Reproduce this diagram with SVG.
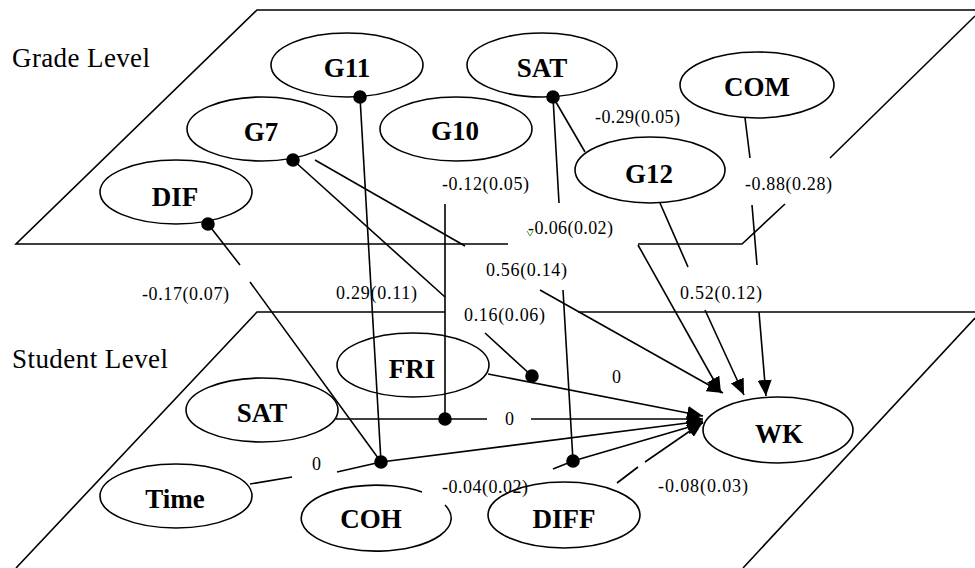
<svg xmlns="http://www.w3.org/2000/svg" width="975" height="568" viewBox="0 0 975 568">
<style>
.ln{stroke:#000;stroke-width:1.6;fill:none}
.el{fill:none;stroke:#000;stroke-width:1.6}
.nt{font-family:"Liberation Serif","Times New Roman",serif;font-weight:bold;font-size:27px;text-anchor:middle;fill:#000}
.et{font-family:"Liberation Serif","Times New Roman",serif;font-size:18px;fill:#000}
.pt{font-family:"Liberation Serif","Times New Roman",serif;font-size:27px;fill:#000}
.dot{fill:#000}
</style>
<defs>
<marker id="ah" markerUnits="userSpaceOnUse" markerWidth="16" markerHeight="14" refX="16" refY="7" orient="auto">
<path d="M0,0 L16,7 L0,14 z" fill="#000"/>
</marker>
</defs>
<rect width="975" height="568" fill="#fff"/>

<g id="grade-plane" class="ln">
<path d="M508,244 L16,244 L257,10 L975,10"/>
<path d="M638,244 L742,244 L785,204"/>
<path d="M830,158 L975,16"/>
</g>
<g id="student-plane" class="ln">
<path d="M445,312 L257,312 L16,568"/>
<path d="M578,312 L975,312"/>
<path d="M975,318 L743,568"/>
</g>
<text class="pt" x="12" y="67" textLength="138" lengthAdjust="spacing">Grade Level</text>
<text class="pt" x="12" y="368" textLength="156" lengthAdjust="spacing">Student Level</text>

<g id="connectors" class="ln">
<path d="M360,97 L381,462"/>
<path d="M293,160 L445,297 M485,333 L532,376"/>
<path d="M315,160 L465,246"/>
<path d="M540,290 L723,393" marker-end="url(#ah)"/>
<path d="M445,204 L445,419"/>
<path d="M553,97 L559,203 M563,290 L573,461"/>
<path d="M553,97 L585,152"/>
<path d="M660,203 L688,267"/>
<path d="M705,310 L744,395" marker-end="url(#ah)"/>
<path d="M745,118 L750,158 M752,205 L757,265"/>
<path d="M759,312 L766,396" marker-end="url(#ah)"/>
<path d="M638,245 L721,393" marker-end="url(#ah)"/>
<path d="M208,224 L240,265 M250,282 L381,462"/>
<path d="M488,374 L703,416" marker-end="url(#ah)"/>
<path d="M336,419 L487,419"/>
<path d="M531,419 L703,419" marker-end="url(#ah)"/>
<path d="M250,484 L292,477"/>
<path d="M337,472 L381,462 L703,421" marker-end="url(#ah)"/>
<path d="M553,469 L573,461 L703,423" marker-end="url(#ah)"/>
<path d="M617,483 L638,467"/>
<path d="M645,462 L703,422" marker-end="url(#ah)"/>
<circle class="dot" cx="360" cy="97" r="6"/>
<circle class="dot" cx="293" cy="160" r="6"/>
<circle class="dot" cx="208" cy="224" r="6"/>
<circle class="dot" cx="553" cy="97" r="6"/>
<circle class="dot" cx="381" cy="462" r="6"/>
<circle class="dot" cx="445" cy="419" r="6"/>
<circle class="dot" cx="532" cy="376" r="6"/>
<circle class="dot" cx="573" cy="461" r="6"/>
</g>

<g id="edge-labels">
<text class="et" x="595" y="123" textLength="85" lengthAdjust="spacing">-0.29(0.05)</text>
<text class="et" x="442" y="190" textLength="87" lengthAdjust="spacing">-0.12(0.05)</text>
<text class="et" x="745" y="190" textLength="87" lengthAdjust="spacing">-0.88(0.28)</text>
<text class="et" x="528" y="234" textLength="85" lengthAdjust="spacing">-0.06(0.02)</text>
<path d="M527,231 L530,236 L533,231" stroke="#3a3" stroke-width="1" fill="none"/>
<text class="et" x="486" y="276" textLength="81" lengthAdjust="spacing">0.56(0.14)</text>
<text class="et" x="142" y="300" textLength="87" lengthAdjust="spacing">-0.17(0.07)</text>
<text class="et" x="336" y="299" textLength="81" lengthAdjust="spacing">0.29(0.11)</text>
<text class="et" x="464" y="321" textLength="81" lengthAdjust="spacing">0.16(0.06)</text>
<text class="et" x="680" y="299" textLength="82" lengthAdjust="spacing">0.52(0.12)</text>
<text class="et" x="612" y="383">0</text>
<text class="et" x="505" y="425">0</text>
<text class="et" x="312" y="470">0</text>
<text class="et" x="442" y="493" textLength="86" lengthAdjust="spacing">-0.04(0.02)</text>
<text class="et" x="658" y="492" textLength="90" lengthAdjust="spacing">-0.08(0.03)</text>
</g>

<g id="node-G11"><ellipse class="el" cx="347" cy="65" rx="76" ry="32"/><text class="nt" x="347" y="77">G11</text></g>
<g id="node-SAT-grade"><ellipse class="el" cx="542" cy="65" rx="75" ry="32"/><text class="nt" x="542" y="77">SAT</text></g>
<g id="node-G10"><ellipse class="el" cx="456" cy="129" rx="76" ry="32"/><text class="nt" x="455" y="140">G10</text></g>
<g id="node-G7"><ellipse class="el" cx="262" cy="129" rx="75" ry="32"/><text class="nt" x="261" y="141">G7</text></g>
<g id="node-DIF"><ellipse class="el" cx="176" cy="192" rx="76" ry="32"/><text class="nt" x="175" y="206">DIF</text></g>
<g id="node-COM"><ellipse class="el" cx="757" cy="85" rx="77" ry="33"/><text class="nt" x="757" y="96">COM</text></g>
<g id="node-G12"><ellipse class="el" cx="650" cy="170" rx="75" ry="33"/><text class="nt" x="649" y="183">G12</text></g>
<g id="node-FRI"><ellipse class="el" cx="413" cy="365" rx="76" ry="32"/><text class="nt" x="412" y="378">FRI</text></g>
<g id="node-SAT-student"><ellipse class="el" cx="262" cy="410" rx="76" ry="32"/><text class="nt" x="262" y="422">SAT</text></g>
<g id="node-Time"><ellipse class="el" cx="176" cy="496" rx="76" ry="32"/><text class="nt" x="175" y="508">Time</text></g>
<g id="node-COH"><path class="el" d="M445,505 A75,33 0 1 1 422,492"/><text class="nt" x="371" y="528">COH</text></g>
<g id="node-DIFF"><ellipse class="el" cx="564" cy="515" rx="76" ry="33"/><text class="nt" x="564" y="528">DIFF</text></g>
<g id="node-WK"><ellipse class="el" cx="778" cy="430" rx="75" ry="33"/><text class="nt" x="779" y="443">WK</text></g>
</svg>
